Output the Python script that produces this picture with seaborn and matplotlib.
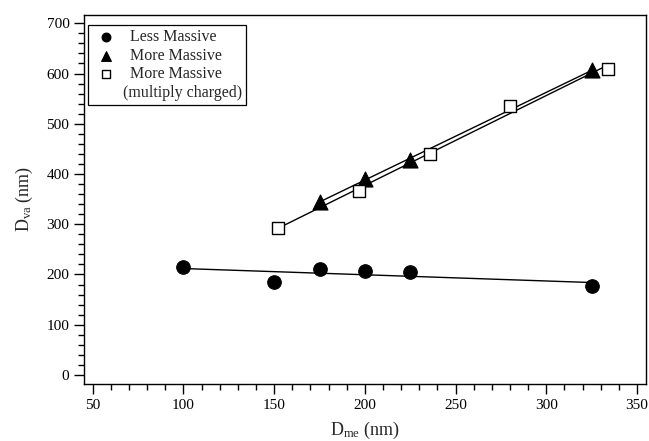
import numpy as np
import pandas as pd
import matplotlib
matplotlib.use("Agg")
import matplotlib.pyplot as plt
from matplotlib.ticker import MultipleLocator
from matplotlib.lines import Line2D
import seaborn as sns

# Data
less_x = [100, 150, 175, 200, 225, 325]
less_y = [215, 185, 210, 207, 205, 178]
more_x = [175, 200, 225, 325]
more_y = [345, 390, 428, 607]
multi_x = [152, 197, 236, 280, 334]
multi_y = [293, 366, 440, 535, 609]

labels = ["Less Massive", "More Massive", "More Massive", "(multiply charged)"]
x_ticks = [50, 100, 150, 200, 250, 300, 350]
y_ticks = [0, 100, 200, 300, 400, 500, 600, 700]

sns.set_style("ticks")
plt.rcParams['font.family'] = ['Liberation Serif', 'DejaVu Serif']
plt.rcParams['mathtext.fontset'] = 'custom'
plt.rcParams['mathtext.rm'] = 'Liberation Serif'
plt.rcParams['mathtext.it'] = 'Liberation Serif:italic'

fig = plt.figure(figsize=(6.49, 4.41), dpi=100)
ax = fig.add_axes([0.1294, 0.1293, 0.9949 - 0.1294, 0.9667 - 0.1293])

df_less = pd.DataFrame({"x": less_x, "y": less_y})
df_more = pd.DataFrame({"x": more_x, "y": more_y})
df_multi = pd.DataFrame({"x": multi_x, "y": multi_y})

line_kws = dict(color="black", lw=1.0, zorder=2)
sns.regplot(data=df_less, x="x", y="y", ci=None, scatter=False, ax=ax, line_kws=line_kws, truncate=True)
sns.regplot(data=df_more, x="x", y="y", ci=None, scatter=False, ax=ax, line_kws=line_kws, truncate=True)
sns.regplot(data=df_multi, x="x", y="y", ci=None, scatter=False, ax=ax, line_kws=line_kws, truncate=True)

sns.scatterplot(data=df_less, x="x", y="y", marker="o", s=95, color="black",
                edgecolor="black", linewidth=0.8, ax=ax, zorder=3, label=labels[0])
sns.scatterplot(data=df_more, x="x", y="y", marker="^", s=117, color="black",
                edgecolor="black", linewidth=0.8, ax=ax, zorder=3, label=labels[1])
sns.scatterplot(data=df_multi, x="x", y="y", marker="s", s=84, color="white",
                edgecolor="black", linewidth=1.0, ax=ax, zorder=4, label=labels[2])

ax.set_xlim(45.15, 354.8)
ax.set_ylim(-17.9, 717.1)
ax.set_xticks(x_ticks)
ax.set_yticks(y_ticks)
ax.xaxis.set_minor_locator(MultipleLocator(10))
ax.yaxis.set_minor_locator(MultipleLocator(20))
ax.tick_params(axis='both', which='major', direction='out', length=7, width=1, labelsize=11, color='black', labelcolor='black')
ax.tick_params(axis='both', which='minor', direction='out', length=4, width=1, color='black')
ax.tick_params(top=False, right=False, which='both')

for sp in ax.spines.values():
    sp.set_visible(True)
    sp.set_color("black")
    sp.set_linewidth(1.0)

ax.set_xlabel(r"D$_{\mathrm{me}}$ (nm)", fontsize=13, labelpad=6)
ax.set_ylabel(r"D$_{\mathrm{va}}$ (nm)", fontsize=13, labelpad=8)

handles, _ = ax.get_legend_handles_labels()
handles = list(handles) + [Line2D([], [], linestyle="none", marker=None)]
leg = ax.legend(handles, labels, loc="upper left", bbox_to_anchor=(0.0075, 0.973),
                frameon=True, fancybox=False, edgecolor="black", framealpha=1,
                fontsize=11.5, markerscale=0.65, handlelength=1.65, handletextpad=0.68,
                borderpad=0.3, labelspacing=0.15, borderaxespad=0.0)
leg.get_frame().set_linewidth(0.9)

# shift the continuation line left a little (its handle is empty)
cols = leg._legend_handle_box.get_children()
rows = [r for c in cols for r in c.get_children()]
hb = rows[3].get_children()[0]
hb.width = max(hb.width - 5.5, 0)

fig.savefig("out.png", dpi=100)
